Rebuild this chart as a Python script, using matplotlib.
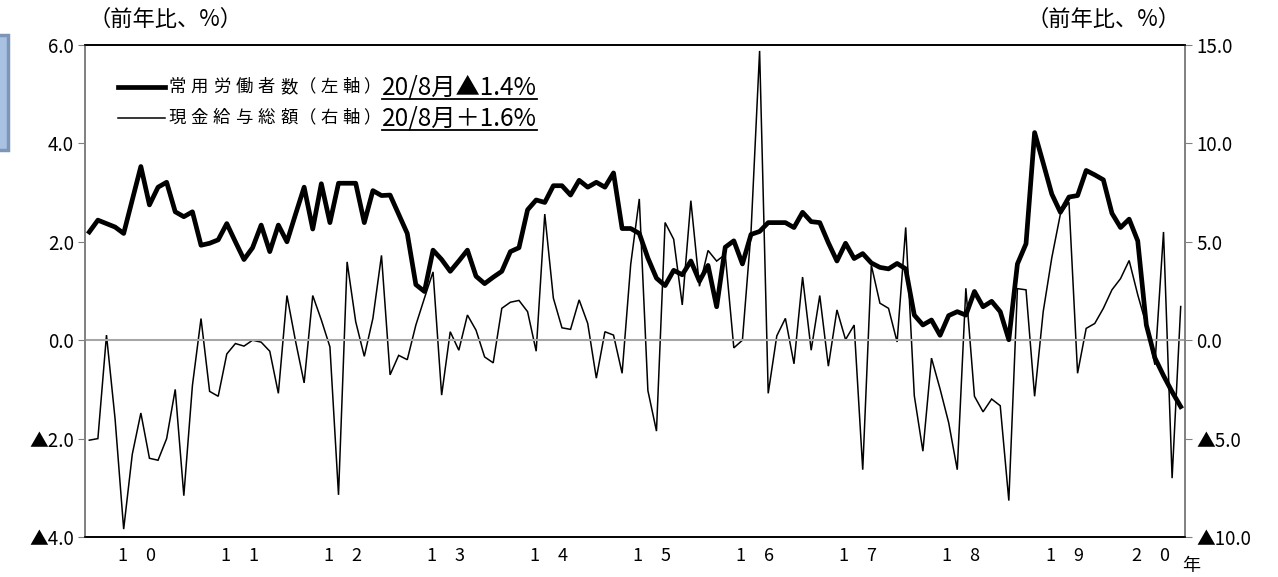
import numpy as np
import matplotlib
matplotlib.use("Agg")
import matplotlib.pyplot as plt
from matplotlib.patches import Rectangle
from matplotlib.lines import Line2D

plt.rcParams['font.family'] = ['Noto Sans CJK JP', 'DejaVu Sans']

# monthly, Jan 2010 .. Aug 2020 (前年比, %)
employees = [  # 常用労働者数 (left axis)
    2.20, 2.44, 2.37, 2.30, 2.17, 2.85, 3.53, 2.75, 3.11, 3.21, 2.61, 2.51,
    2.61, 1.93, 1.97, 2.04, 2.37, 2.00, 1.64, 1.88, 2.34, 1.80, 2.34, 2.00,
    2.56, 3.11, 2.26, 3.18, 2.39, 3.19, 3.19, 3.19, 2.39, 3.04, 2.94, 2.95,
    2.56, 2.17, 1.13, 0.99, 1.83, 1.64, 1.40, 1.61, 1.83, 1.30, 1.15, 1.28,
    1.40, 1.80, 1.88, 2.65, 2.85, 2.80, 3.14, 3.14, 2.95, 3.25, 3.11, 3.21,
    3.11, 3.40, 2.27, 2.27, 2.17, 1.67, 1.26, 1.11, 1.42, 1.33, 1.61, 1.20,
    1.52, 0.68, 1.89, 2.02, 1.55, 2.15, 2.21, 2.39, 2.39, 2.39, 2.29, 2.60,
    2.41, 2.39, 1.98, 1.61, 1.97, 1.66, 1.76, 1.57, 1.48, 1.45, 1.56, 1.45,
    0.51, 0.31, 0.41, 0.10, 0.50, 0.58, 0.51, 0.99, 0.68, 0.79, 0.58, 0.01,
    1.55, 1.96, 4.22, 3.60, 2.97, 2.60, 2.91, 2.94, 3.45, 3.36, 3.26, 2.58,
    2.29, 2.46, 2.02, 0.31, -0.36, -0.72, -1.05, -1.35,
]
wages = [  # 現金給与総額 (right axis)
    -5.08, -5.00, 0.26, -4.00, -9.60, -5.80, -3.70, -6.00, -6.10, -5.00, -2.50, -7.90,
    -2.30, 1.10, -2.60, -2.85, -0.70, -0.17, -0.30, 0.00, -0.10, -0.56, -2.70, 2.27,
    -0.05, -2.17, 2.27, 1.03, -0.34, -7.86, 3.98, 0.94, -0.82, 1.11, 4.31, -1.76,
    -0.77, -0.99, 0.77, 2.14, 3.47, -2.79, 0.43, -0.51, 1.28, 0.51, -0.85, -1.15,
    1.62, 1.93, 2.02, 1.45, -0.56, 6.41, 2.14, 0.63, 0.55, 2.05, 0.85, -1.93,
    0.43, 0.26, -1.68, 3.85, 7.18, -2.56, -4.62, 5.98, 5.13, 1.79, 7.09, 2.74,
    4.56, 4.02, 4.36, -0.39, 0.00, 5.50, 14.70, -2.70, 0.22, 1.11, -1.20, 3.21,
    -0.51, 2.27, -1.32, 1.54, 0.03, 0.77, -6.58, 3.81, 1.88, 1.62, -0.09, 5.73,
    -2.82, -5.64, -0.91, -2.48, -4.19, -6.58, 2.64, -2.85, -3.64, -2.99, -3.33, -8.15,
    2.62, 2.56, -2.85, 1.45, 4.19, 6.41, 7.01, -1.68, 0.60, 0.85, 1.62, 2.56,
    3.13, 4.05, 2.31, 0.77, -1.25, 5.50, -7.01, 1.71,
]
years = ['1　0', '1　1', '1　2', '1　3', '1　4', '1　5', '1　6', '1　7', '1　8', '1　9', '2　0']
left_ticks = [6, 4, 2, 0, -2, -4]
left_labels = ['6.0', '4.0', '2.0', '0.0', '▲2.0', '▲4.0']
right_ticks = [15, 10, 5, 0, -5, -10]
right_labels = ['15.0', '10.0', '5.0', '0.0', '▲5.0', '▲10.0']

W, H = 1278, 577
fig = plt.figure(figsize=(W / 100, H / 100), dpi=100)
fig.patch.set_facecolor('white')

L, R, T, B = 85, 1185, 45, 537
ax = fig.add_axes([L / W, 1 - B / H, (R - L) / W, (B - T) / H])
ax2 = ax.twinx()

x = np.arange(len(employees))
ax.set_xlim(-0.5, len(employees) - 0.5)
ax.set_ylim(-4, 6)
ax2.set_ylim(-10, 15)

# zero line
ax.axhline(0, color='#a6a6a6', lw=1.5, zorder=1)

ax2.plot(x, wages, color='black', lw=1.1, zorder=3, solid_joinstyle='miter')
ax.plot(x, employees, color='black', lw=3.4, zorder=4, solid_joinstyle='round')
ax.set_zorder(ax2.get_zorder() + 1)
ax.patch.set_visible(False)

# year ticks at the middle of each year's months
pos = []
for k in range(len(years)):
    start = 12 * k
    end = min(start + 11, len(employees) - 1)
    pos.append((start + end) / 2)
ax.set_xticks(pos)
ax.set_xticklabels(years, fontsize=13)
ax.tick_params(axis='x', length=0, pad=7)

ax.set_yticks(left_ticks)
ax.set_yticklabels(left_labels, fontsize=13.5)
ax.tick_params(axis='y', direction='out', length=5, color='#808080', pad=3)
ax2.set_yticks(right_ticks)
ax2.set_yticklabels(right_labels, fontsize=13.5)
ax2.tick_params(axis='y', direction='out', length=5, color='#808080', pad=3)

for a in (ax, ax2):
    a.spines['left'].set_color('#808080')
    a.spines['right'].set_color('#808080')
    a.spines['top'].set_color('black')
    a.spines['bottom'].set_color('black')
    for s in a.spines.values():
        s.set_linewidth(1.2)

fig.text(88 / W, 1 - 19 / H, '（前年比、%）', fontsize=16, ha='left', va='center')
fig.text(1181 / W, 1 - 19 / H, '（前年比、%）', fontsize=16, ha='right', va='center')
fig.text(1191 / W, 1 - 566 / H, '年', fontsize=13, ha='center', va='center')

# legend drawn by hand (letter-spaced names, underlined latest values)
rows = [('常用労働者数', '（左軸）', '20/8月▲1.4%', 3.4, 87),
        ('現金給与総額', '（右軸）', '20/8月＋1.6%', 1.1, 118)]
fig.canvas.draw()
rend = fig.canvas.get_renderer()
for name, axis_txt, val, lw, y in rows:
    yf = 1 - y / H
    fig.add_artist(Line2D([118 / W, 165 / W], [yf, yf], color='black', lw=lw,
                          transform=fig.transFigure))
    cx = 168
    for ch in name:
        fig.text(cx / W, yf, ch, fontsize=12.5, ha='left', va='center')
        cx += 22.5
    cx -= 4
    last = None
    for ch in axis_txt:
        last = fig.text(cx / W, yf, ch, fontsize=12.5, ha='left', va='center')
        cx += 21.5
    lb = last.get_window_extent(rend)
    t3 = fig.text((lb.x1 + 1) / W, yf, val, fontsize=17.5, ha='left', va='center')
    bb3 = t3.get_window_extent(rend)
    uy = (bb3.y0 + 1) / H
    fig.add_artist(Line2D([bb3.x0 / W, bb3.x1 / W], [uy, uy], color='black', lw=1.3,
                          transform=fig.transFigure))

# clipped text box at the left edge
fig.add_artist(Rectangle((-6 / W, 1 - 150 / H), 14 / W, 115 / H, transform=fig.transFigure,
                         facecolor='#a9c1e3', edgecolor='#7d96b8', lw=2.5))

fig.savefig('out.png', dpi=100)
